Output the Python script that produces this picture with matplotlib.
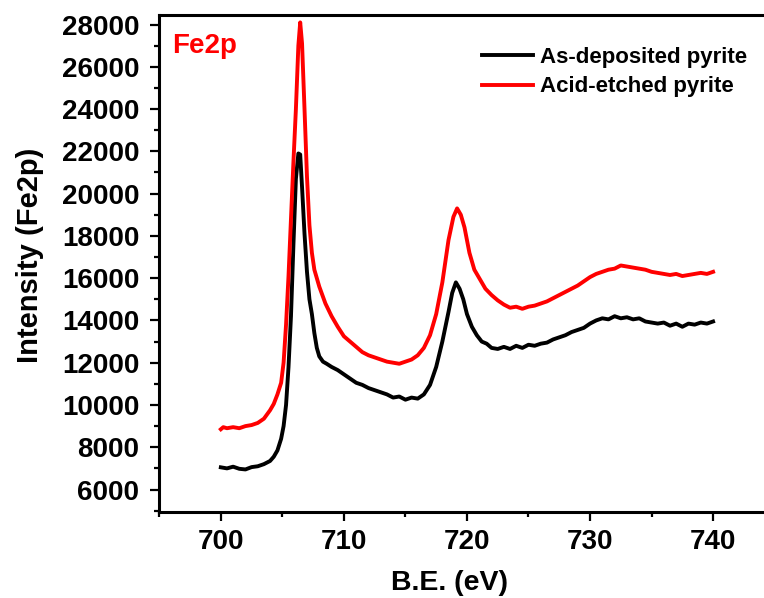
import matplotlib
matplotlib.use("Agg")
import matplotlib.pyplot as plt
from matplotlib.ticker import MultipleLocator

plt.rcParams['font.family'] = ['Liberation Sans', 'DejaVu Sans']
plt.rcParams['font.weight'] = 'bold'

# --- As-deposited pyrite (black) ---
be_dep = [700.0, 700.5, 701.0, 701.5, 702.0, 702.5, 703.0, 703.5, 704.0, 704.3,
          704.6, 704.9, 705.1, 705.3, 705.5, 705.7, 705.9, 706.1, 706.3, 706.45,
          706.6, 706.8, 707.0, 707.2, 707.4, 707.6, 707.8, 708.0, 708.3, 708.6,
          709.0, 709.5, 710.0, 710.5, 711.0, 711.5, 712.0, 712.5, 713.0, 713.5,
          714.0, 714.5, 715.0, 715.5, 716.0, 716.5, 717.0, 717.5, 718.0, 718.5,
          718.8, 719.1, 719.4, 719.7, 720.0, 720.4, 720.8, 721.2, 721.6, 722.0,
          722.5, 723.0, 723.5, 724.0, 724.5, 725.0, 725.5, 726.0, 726.5, 727.0,
          727.5, 728.0, 728.5, 729.0, 729.5, 730.0, 730.5, 731.0, 731.5, 732.0,
          732.5, 733.0, 733.5, 734.0, 734.5, 735.0, 735.5, 736.0, 736.5, 737.0,
          737.5, 738.0, 738.5, 739.0, 739.5, 740.0]
int_dep = [7050, 7000, 7080, 6980, 6950, 7060, 7100, 7200, 7350, 7550,
           7850, 8400, 9000, 10000, 11800, 14200, 17600, 20700, 21900, 21850,
           20300, 18100, 16300, 15000, 14300, 13400, 12700, 12300, 12050, 11950,
           11800, 11650, 11450, 11250, 11050, 10950, 10800, 10700, 10600, 10500,
           10350, 10400, 10250, 10350, 10300, 10500, 10950, 11800, 13000, 14400,
           15300, 15800, 15500, 15000, 14300, 13700, 13300, 13000, 12900, 12700,
           12650, 12750, 12650, 12800, 12700, 12850, 12800, 12900, 12950, 13100,
           13200, 13300, 13450, 13550, 13650, 13850, 14000, 14100, 14050, 14200,
           14100, 14150, 14050, 14100, 13950, 13900, 13850, 13900, 13750, 13850,
           13700, 13850, 13800, 13900, 13850, 13950]

# --- Acid-etched pyrite (red) ---
be_etch = [700.0, 700.2, 700.5, 701.0, 701.5, 702.0, 702.5, 703.0, 703.5, 704.0,
           704.3, 704.6, 704.9, 705.1, 705.3, 705.5, 705.7, 705.9, 706.1, 706.3,
           706.45, 706.6, 706.8, 707.0, 707.2, 707.4, 707.6, 708.0, 708.5, 709.0,
           709.5, 710.0, 710.5, 711.0, 711.5, 712.0, 712.5, 713.0, 713.5, 714.0,
           714.5, 715.0, 715.5, 716.0, 716.5, 717.0, 717.5, 718.0, 718.5, 718.9,
           719.2, 719.5, 719.8, 720.2, 720.6, 721.0, 721.5, 722.0, 722.5, 723.0,
           723.5, 724.0, 724.5, 725.0, 725.5, 726.0, 726.5, 727.0, 727.5, 728.0,
           728.5, 729.0, 729.5, 730.0, 730.5, 731.0, 731.5, 732.0, 732.5, 733.0,
           733.5, 734.0, 734.5, 735.0, 735.5, 736.0, 736.5, 737.0, 737.5, 738.0,
           738.5, 739.0, 739.5, 740.0]
int_etch = [8850, 8950, 8900, 8950, 8900, 9000, 9050, 9150, 9350, 9750,
            10050, 10500, 11050, 12000, 13800, 16100, 18800, 21500, 24000, 27000,
            28100, 27100, 24000, 20800, 18500, 17200, 16400, 15600, 14800, 14200,
            13700, 13250, 13000, 12750, 12500, 12350, 12250, 12150, 12050, 12000,
            11950, 12050, 12150, 12350, 12700, 13300, 14300, 15800, 17800, 18900,
            19300, 19000, 18400, 17200, 16400, 16000, 15500, 15200, 14950, 14750,
            14600, 14650, 14550, 14650, 14700, 14800, 14900, 15050, 15200, 15350,
            15500, 15650, 15850, 16050, 16200, 16300, 16400, 16450, 16600, 16550,
            16500, 16450, 16400, 16300, 16250, 16200, 16150, 16200, 16100, 16150,
            16200, 16250, 16200, 16300]

labels = ["As-deposited pyrite", "Acid-etched pyrite"]

fig = plt.figure(figsize=(7.64, 5.98), dpi=100)
ax = fig.add_axes([0.2085, 0.1443, 0.8054, 0.8306])

ax.plot(be_dep, int_dep, color='black', lw=2.8, label=labels[0])
ax.plot(be_etch, int_etch, color='#ff0000', lw=2.8, label=labels[1])

ax.set_xlim(695, 745)
ax.set_ylim(4950, 28450)
ax.xaxis.set_major_locator(MultipleLocator(10))
ax.xaxis.set_minor_locator(MultipleLocator(5))
ax.yaxis.set_major_locator(MultipleLocator(2000))
ax.yaxis.set_minor_locator(MultipleLocator(1000))
ax.set_yticks(range(6000, 28001, 2000))

for s in ax.spines.values():
    s.set_linewidth(2.2)
ax.tick_params(which='major', direction='out', length=6.5, width=1.6,
               labelsize=20, pad=6)
ax.tick_params(axis='y', which='major', pad=8)
ax.tick_params(which='minor', direction='out', length=3.6, width=1.6)

ax.set_xlabel("B.E. (eV)", fontsize=20.5, fontweight='bold')
ax.set_ylabel("Intensity (Fe2p)", fontsize=21, fontweight='bold')
ax.xaxis.set_label_coords((449 - 159.3) / 615.3, -(583 - 511.7) / 496.7)
ax.yaxis.set_label_coords(-(159.3 - 30) / 615.3, (511.7 - 255) / 496.7)
ax.xaxis.label.set_va('center')
ax.yaxis.label.set_va('center')

fig.text(172 / 764, 1 - 53 / 598, "Fe2p", color='#ff0000', fontsize=20,
         fontweight='bold', va='baseline')

leg = ax.legend(loc='upper left', bbox_to_anchor=(482 / 764, 1 - 47 / 598),
                bbox_transform=fig.transFigure, frameon=False,
                prop={'size': 16, 'weight': 'bold'}, borderpad=0,
                borderaxespad=0, handlelength=2.3, handletextpad=0.32,
                labelspacing=0.38)
for line in leg.get_lines():
    line.set_linewidth(2.8)

fig.savefig("out.png", dpi=100)
